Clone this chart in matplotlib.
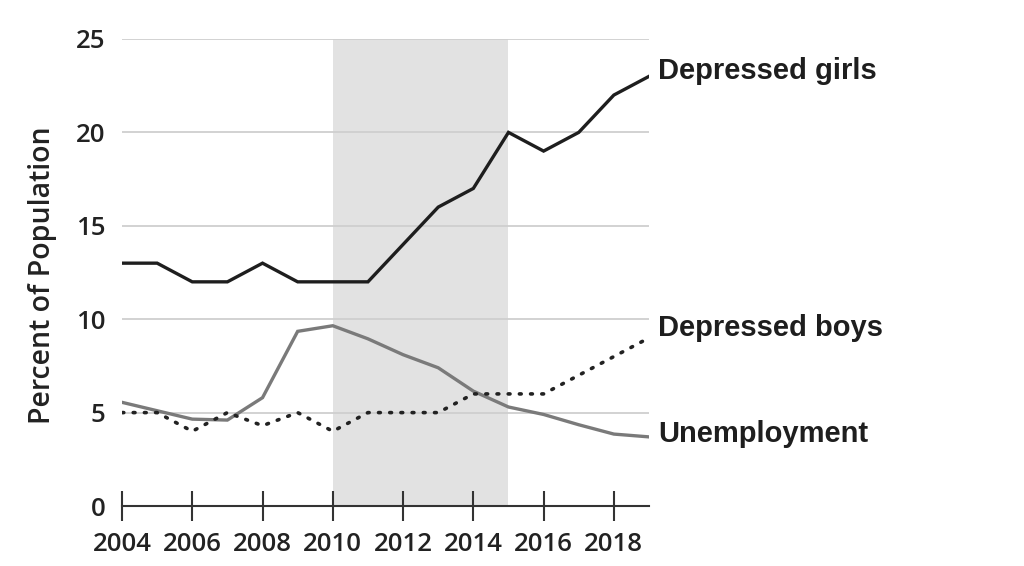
import matplotlib
matplotlib.use("Agg")
import matplotlib.pyplot as plt

years = list(range(2004, 2020))
depressed_girls = [13, 13, 12, 12, 13, 12, 12, 12, 14, 16, 17, 20, 19, 20, 22, 23]
depressed_boys = [5, 5, 4, 5, 4.3, 5, 4, 5, 5, 5, 6, 6, 6, 7, 8, 9]
unemployment = [5.55, 5.1, 4.65, 4.6, 5.8, 9.35, 9.65, 8.95, 8.1, 7.4, 6.15, 5.3, 4.9, 4.35, 3.85, 3.7]
x_ticks = [2004, 2006, 2008, 2010, 2012, 2014, 2016, 2018]
y_ticks = [0, 5, 10, 15, 20, 25]
shade_start, shade_end = 2010, 2015

fig = plt.figure(figsize=(10.24, 5.66), dpi=100)
ax = fig.add_axes([122/1024, 1 - 506/566, (649-122)/1024, (506-39)/566])

ax.axvspan(shade_start, shade_end, color="#e2e2e2", zorder=0, lw=0)
for y in y_ticks[1:]:
    ax.axhline(y, color="#cfcfcf", lw=1.3, zorder=1)

ax.plot(years, unemployment, color="#7a7a7a", lw=2.4, zorder=3, solid_joinstyle="miter")
ax.plot(years, depressed_boys, color="#222222", lw=2.6, ls=(0, (0.5, 2.6)), dash_capstyle="round", zorder=3)
ax.plot(years, depressed_girls, color="#1e1e1e", lw=2.4, zorder=4, solid_joinstyle="miter")

ax.set_xlim(2004, 2019)
ax.set_ylim(0, 25)
for s in ["top", "right", "left"]:
    ax.spines[s].set_visible(False)
ax.spines["bottom"].set_color("#333333")
ax.spines["bottom"].set_linewidth(1.5)
ax.spines["bottom"].set_zorder(5)

ax.set_xticks(x_ticks)
ax.set_xticklabels([str(t) for t in x_ticks])
ax.set_yticks(y_ticks)
ax.set_yticklabels([str(t) for t in y_ticks])
ax.tick_params(axis="x", direction="inout", length=22, width=1.5, color="#333333",
               pad=8, labelsize=18.5, labelcolor="#222222")
ax.tick_params(axis="y", length=0, pad=12, labelsize=18.5, labelcolor="#222222")
for lab in ax.get_xticklabels() + ax.get_yticklabels():
    lab.set_family("Open Sans")
    lab.set_fontweight("semibold")

fig.text(42.5/1024, 1 - 275.5/566, "Percent of Population", rotation=90, ha="center", va="center",
         fontsize=20.5, family="Open Sans", fontweight="semibold", color="#222222")

lab_kw = dict(fontsize=21, fontweight="bold", family="Liberation Sans", color="#1e1e1e",
              va="baseline", ha="left", annotation_clip=False, textcoords="offset points")
ax.annotate("Depressed girls", xy=(2019, depressed_girls[-1]), xytext=(6.5, -2.1), **lab_kw)
ax.annotate("Depressed boys", xy=(2019, depressed_boys[-1]), xytext=(6.5, 1.4), **lab_kw)
ax.annotate("Unemployment", xy=(2019, unemployment[-1]), xytext=(6.5, -3.7), **lab_kw)

fig.savefig("out.png", dpi=100, facecolor="white")
